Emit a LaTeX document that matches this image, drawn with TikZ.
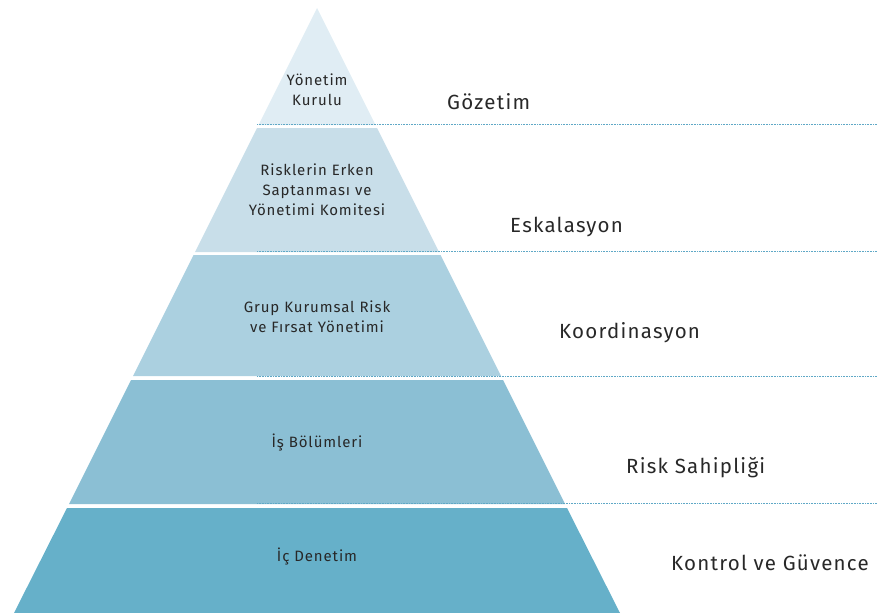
\documentclass[tikz,border=0pt]{standalone}
\usepackage{fontspec}
\setmainfont{Fira Sans}[LetterSpace=6]
\definecolor{cA}{RGB}{224,237,244}
\definecolor{cB}{RGB}{200,222,233}
\definecolor{cC}{RGB}{171,208,224}
\definecolor{cD}{RGB}{139,191,212}
\definecolor{cE}{RGB}{102,176,201}
\definecolor{dotc}{RGB}{95,168,198}
\definecolor{txt}{RGB}{40,40,40}
\begin{document}
\begin{tikzpicture}[x=1pt,y=-1pt,
  inner/.style={text=txt,font=\fontsize{15}{20}\selectfont,align=center,inner sep=0pt},
  side/.style={text=txt,font=\fontsize{20.5}{24}\selectfont,anchor=west,inner sep=0pt},
  guide/.style={draw=dotc,line width=0.8pt,dash pattern=on 0.8pt off 0.8pt}]
\useasboundingbox (0,0) rectangle (887,613);
% layers
\fill[cA] (317,8) -- (375.5,125) -- (258.5,125) -- cycle;
\fill[cB] (257,128) -- (377,128) -- (439,252) -- (195,252) -- cycle;
\fill[cC] (193.5,255) -- (440.5,255) -- (501,376) -- (133,376) -- cycle;
\fill[cD] (131,380) -- (503,380) -- (565,504) -- (69,504) -- cycle;
\fill[cE] (67,508) -- (567,508) -- (620,613) -- (14,613) -- cycle;
% guide lines
\coordinate (g1a) at (257,124.5); \coordinate (g1b) at (877,124.5);
\coordinate (g2a) at (257,251.5); \coordinate (g2b) at (877,251.5);
\coordinate (g3a) at (257,376); \coordinate (g3b) at (877,376);
\coordinate (g4a) at (257,503.5); \coordinate (g4b) at (877,503.5);
\draw[guide] (g1a) -- (g1b);
\draw[guide] (g2a) -- (g2b);
\draw[guide] (g3a) -- (g3b);
\draw[guide] (g4a) -- (g4b);
% inner labels
\node[inner] (t1) at (317,90) {Yönetim\\Kurulu};
\node[inner] (t2) at (317,190) {Risklerin Erken\\Saptanması ve\\Yönetimi Komitesi};
\node[inner] (t3) at (317,317) {Grup Kurumsal Risk\\ve Fırsat Yönetimi};
\node[inner] (t4) at (317,443) {İş Bölümleri};
\node[inner] (t5) at (317,557) {İç Denetim};
% side labels
\node[side] (s1) at (447,102) {Gözetim};
\node[side] (s2) at (510,227) {Eskalasyon};
\node[side] (s3) at (559,333) {Koordinasyon};
\node[side] (s4) at (626,468) {Risk Sahipliği};
\node[side] (s5) at (671,563) {Kontrol ve Güvence};
\end{tikzpicture}
\end{document}
